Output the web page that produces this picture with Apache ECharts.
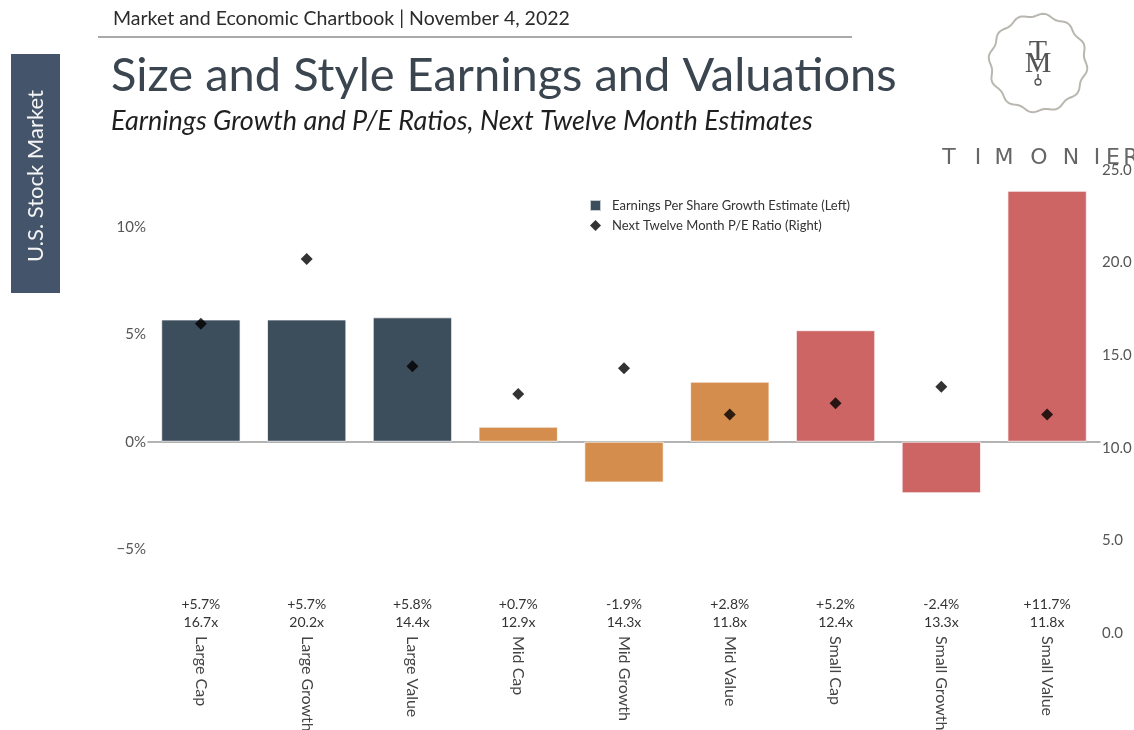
<!DOCTYPE html>
<html>
<head>
<meta charset="utf-8">
<script src="https://cdn.jsdelivr.net/npm/echarts@6/dist/echarts.min.js"></script>
<style>
  html, body { margin: 0; padding: 0; background: #fff; }
  #chart { width: 1134px; height: 730px; }
</style>
</head>
<body>
<div id="chart"></div>
<script>
// values
const categories = ['Large Cap', 'Large Growth', 'Large Value', 'Mid Cap', 'Mid Growth', 'Mid Value', 'Small Cap', 'Small Growth', 'Small Value'];
const epsGrowth = [5.7, 5.7, 5.8, 0.7, -1.9, 2.8, 5.2, -2.4, 11.7];
const peRatio = [16.7, 20.2, 14.4, 12.9, 14.3, 11.8, 12.4, 13.3, 11.8];
const leftTicks = [-5, 0, 5, 10];
const rightTicks = [0, 5, 10, 15, 20, 25];

const FONT = 'Lato';
const colorBySize = { Large: '#3c4d5c', Mid: '#d48d4c', Small: '#cd6565' };
const logoLetters = ['T', 'I', 'M', 'O', 'N', 'I', 'E', 'R'];
const logoLetterX = [949, 978, 1004, 1039, 1071, 1097, 1113, 1131];

const gridLeft = 148, gridRight = 34;

function pct(v) {
  return (v > 0 ? '+' : '') + v.toFixed(1) + '%';
}

const chart = echarts.init(document.getElementById('chart'));

// wavy ring for the logo
const ring = [];
for (let i = 0; i < 180; i++) {
  const a = i / 180 * Math.PI * 2;
  const r = 48 + 1.6 * Math.sin(a * 12);
  ring.push([1038 + r * Math.cos(a), 63 + r * Math.sin(a)]);
}

const option = {
  backgroundColor: '#fff',
  animation: false,
  textStyle: { fontFamily: FONT },
  title: {
    text: 'Size and Style Earnings and Valuations',
    subtext: 'Earnings Growth and P/E Ratios, Next Twelve Month Estimates',
    left: 106,
    top: 47,
    itemGap: 9,
    textStyle: { fontFamily: FONT, fontSize: 47, fontWeight: 'normal', color: '#3a4550' },
    subtextStyle: { fontFamily: FONT, fontSize: 27, fontStyle: 'italic', color: '#1f1f1f' }
  },
  legend: {
    orient: 'vertical',
    left: 584,
    top: 194,
    itemWidth: 11,
    itemHeight: 11,
    itemGap: 7,
    textStyle: { fontFamily: FONT, fontSize: 13, color: '#333', padding: [0, 0, 0, 6] },
    data: [
      { name: 'Earnings Per Share Growth Estimate (Left)', icon: 'rect' },
      { name: 'Next Twelve Month P/E Ratio (Right)', icon: 'diamond' }
    ]
  },
  grid: [
    { left: gridLeft, right: gridRight, top: 170, bottom: 73.8, outerBoundsMode: 'none' },
    { left: gridLeft, right: gridRight, top: 170, bottom: 97, outerBoundsMode: 'none' },
    { left: gridLeft, right: gridRight, top: 170, bottom: 135, outerBoundsMode: 'none' }
  ],
  xAxis: [
    {
      type: 'category', gridIndex: 0, data: categories,
      axisLine: { onZero: true, lineStyle: { color: '#9a9a9a', width: 1.5 } },
      axisTick: { show: false }, axisLabel: { show: false }
    },
    {
      type: 'category', gridIndex: 1, data: categories,
      axisLine: { show: false }, axisTick: { show: false },
      axisLabel: { rotate: -90, margin: 3, fontFamily: FONT, fontSize: 16, color: '#444', interval: 0 }
    },
    {
      type: 'category', gridIndex: 2, data: categories,
      axisLine: { show: false }, axisTick: { show: false },
      axisLabel: {
        margin: 0, interval: 0, fontFamily: FONT, fontSize: 14, lineHeight: 18, color: '#333',
        formatter: (v, i) => pct(epsGrowth[i]) + '\n' + peRatio[i].toFixed(1) + 'x'
      }
    }
  ],
  yAxis: [
    {
      type: 'value', gridIndex: 0, min: -10, max: 12.67, interval: 5,
      splitLine: { show: false }, axisLine: { show: false }, axisTick: { show: false },
      axisLabel: {
        margin: 2, fontFamily: FONT, fontSize: 15, color: '#555',
        formatter: v => leftTicks.includes(v) ? (v < 0 ? '\u2212' + Math.abs(v) : v) + '%' : ''
      }
    },
    {
      type: 'value', gridIndex: 1, position: 'right', min: 0, max: 25, interval: 5,
      splitLine: { show: false }, axisLine: { show: false }, axisTick: { show: false },
      axisLabel: {
        margin: 2, fontFamily: FONT, fontSize: 15, color: '#555',
        formatter: v => rightTicks.includes(v) ? v.toFixed(1) : ''
      }
    },
    { type: 'value', gridIndex: 2, show: false }
  ],
  series: [
    {
      name: 'Earnings Per Share Growth Estimate (Left)',
      type: 'bar',
      xAxisIndex: 0, yAxisIndex: 0,
      barWidth: '75%',
      itemStyle: { color: colorBySize.Large, borderColor: 'rgba(255,255,255,0.7)', borderWidth: 1 },
      data: epsGrowth.map((v, i) => ({
        value: v,
        itemStyle: { color: colorBySize[categories[i].split(' ')[0]] }
      }))
    },
    {
      name: 'Next Twelve Month P/E Ratio (Right)',
      type: 'scatter',
      xAxisIndex: 1, yAxisIndex: 1,
      symbol: 'diamond',
      symbolSize: 12,
      itemStyle: { color: '#000' },
      z: 5,
      data: peRatio
    }
  ],
  graphic: [
    {
      type: 'text', left: 113, top: 9,
      style: { text: 'Market and Economic Chartbook | November 4, 2022', fontFamily: FONT, fontSize: 19.5, fill: '#2b2b2b' }
    },
    { type: 'line', shape: { x1: 98, y1: 37, x2: 852, y2: 37 }, style: { stroke: '#555', lineWidth: 1 } },
    { type: 'rect', shape: { x: 11, y: 54, width: 49, height: 239 }, style: { fill: '#44546a' } },
    {
      type: 'text', x: 35.5, y: 176, rotation: Math.PI / 2,
      style: { text: 'U.S. Stock Market', fontFamily: FONT, fontSize: 22, fill: '#f4f4f4', align: 'center', verticalAlign: 'middle' }
    },
    { type: 'polygon', shape: { points: ring }, style: { fill: '#fff', stroke: '#b9b7af', lineWidth: 2 } },
    {
      type: 'text', x: 1038, y: 52,
      style: { text: 'T', fontFamily: 'Liberation Serif', fontSize: 30, fill: '#555', align: 'center', verticalAlign: 'middle' }
    },
    {
      type: 'text', x: 1038, y: 64,
      style: { text: 'M', fontFamily: 'Liberation Serif', fontSize: 30, fill: '#555', align: 'center', verticalAlign: 'middle' }
    },
    { type: 'line', shape: { x1: 1038, y1: 74, x2: 1038, y2: 79 }, style: { stroke: '#555', lineWidth: 1.5 } },
    { type: 'circle', shape: { cx: 1038, cy: 82, r: 3 }, style: { fill: 'none', stroke: '#555', lineWidth: 1.3 } },
    ...logoLetters.map((ch, i) => ({
      type: 'text', x: logoLetterX[i], y: 158, z: 20,
      style: { text: ch, fontFamily: 'DejaVu Sans', fontSize: 22, fill: '#666', align: 'center', verticalAlign: 'middle' }
    }))
  ]
};

chart.setOption(option);
</script>
</body>
</html>
